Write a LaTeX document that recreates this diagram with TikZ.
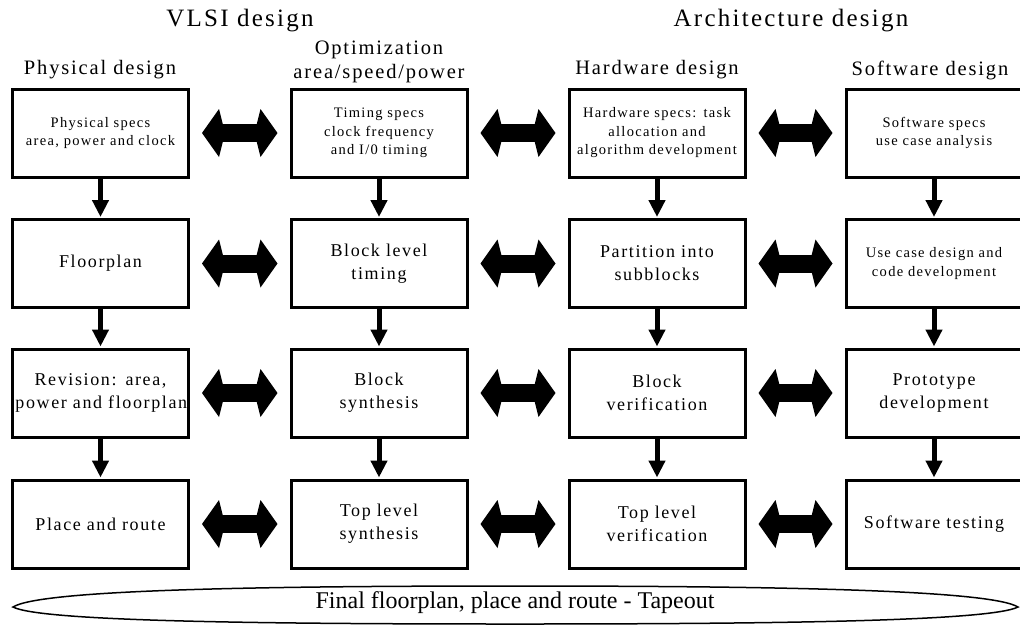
\documentclass[tikz,border=0pt]{standalone}
\usepackage{fontspec}
\setmainfont{Liberation Serif}
\newfontfamily\spacedfont[LetterSpace=9]{Liberation Serif}
\usepackage{tikz}
\usetikzlibrary{arrows.meta}
\definecolor{myink}{RGB}{0,0,0}
\tikzset{
  box/.style={rectangle, draw=myink, line width=3pt,
    minimum width=176pt, minimum height=88pt, text width=170pt,
    align=center, inner sep=3pt},
  spec/.style={box, font=\spacedfont\fontsize{14.5}{18.5}\selectfont},
  stage/.style={box, font=\spacedfont\fontsize{18}{23}\selectfont},
  title/.style={font=\spacedfont\fontsize{25}{28}\selectfont, inner sep=0pt},
  subtitle/.style={font=\spacedfont\fontsize{20.5}{24}\selectfont, align=center, inner sep=0pt},
  flow/.style={-{Triangle[length=17pt, width=16pt]}, line width=5pt, color=myink, shorten >=1pt},
  link/.style={{Kite[length=23pt, width=48pt, inset=6pt]}-{Kite[length=23pt, width=48pt, inset=6pt]},
    line width=18pt, color=myink, shorten <=12pt, shorten >=12pt}
}

\begin{document}
\begin{tikzpicture}[x=1pt, y=-1pt]
  \useasboundingbox (0,0) rectangle (1020,625);

  % Headings
  \node[title] (vlsi) at (240,21) {VLSI design};
  \node[title] (arch) at (791,21) {Architecture design};
  \node[subtitle] (phys) at (100,70) {Physical design};
  \node[subtitle] (opt) at (379,62) {Optimization\\area/speed/power};
  \node[subtitle] (hw) at (657,70) {Hardware design};
  \node[subtitle] (sw) at (930,70) {Software design};

  % Physical design column
  \node[spec] (pspec) at (100.5,133) {Physical specs\\area, power and clock};
  \node[stage] (fplan) at (100.5,263.5) {Floorplan};
  \node[stage] (revis) at (100.5,393) {Revision: area,\\\mbox{power and floorplan}};
  \node[stage] (pnr) at (100.5,524) {Place and route};

  % Optimization column
  \node[spec] (tspec) at (379,133) {Timing specs\\clock frequency\\and I/0 timing};
  \node[stage] (btime) at (379,263.5) {Block level\\timing};
  \node[stage] (bsynth) at (379,393) {Block\\synthesis};
  \node[stage] (tsynth) at (379,524) {Top level\\synthesis};

  % Hardware design column
  \node[spec] (hspec) at (657,133) {Hardware specs: task\\allocation and\\\mbox{algorithm development}};
  \node[stage] (part) at (657,263.5) {Partition into\\subblocks};
  \node[stage] (bver) at (657,393) {Block\\verification};
  \node[stage] (tver) at (657,524) {Top level\\verification};

  % Software design column
  \node[spec] (sspec) at (934,133) {Software specs\\use case analysis};
  \node[spec] (ucase) at (934,263.5) {Use case design and\\code development};
  \node[stage] (proto) at (934,393) {Prototype\\development};
  \node[stage] (swtest) at (934,524) {Software testing};

  % Flow down each column
  \draw[flow] (pspec) -- (fplan);
  \draw[flow] (fplan) -- (revis);
  \draw[flow] (revis) -- (pnr);
  \draw[flow] (tspec) -- (btime);
  \draw[flow] (btime) -- (bsynth);
  \draw[flow] (bsynth) -- (tsynth);
  \draw[flow] (hspec) -- (part);
  \draw[flow] (part) -- (bver);
  \draw[flow] (bver) -- (tver);
  \draw[flow] (sspec) -- (ucase);
  \draw[flow] (ucase) -- (proto);
  \draw[flow] (proto) -- (swtest);

  % Links between columns
  \draw[link] (pspec) -- (tspec);
  \draw[link] (tspec) -- (hspec);
  \draw[link] (hspec) -- (sspec);
  \draw[link] (fplan) -- (btime);
  \draw[link] (btime) -- (part);
  \draw[link] (part) -- (ucase);
  \draw[link] (revis) -- (bsynth);
  \draw[link] (bsynth) -- (bver);
  \draw[link] (bver) -- (proto);
  \draw[link] (pnr) -- (tsynth);
  \draw[link] (tsynth) -- (tver);
  \draw[link] (tver) -- (swtest);

  % Tapeout
  \node[font=\fontsize{24}{28}\selectfont, inner sep=0pt] (tapeout) at (515,603) {Final floorplan, place and route - Tapeout};
  \draw[line width=1.5pt, color=myink] (13,607) .. controls (40,590) and (250,586) .. (515,586)
    .. controls (780,586) and (990,590) .. (1018,607)
    .. controls (990,621) and (780,624) .. (515,624)
    .. controls (250,624) and (40,621) .. (13,607) -- cycle;
\end{tikzpicture}
\end{document}
